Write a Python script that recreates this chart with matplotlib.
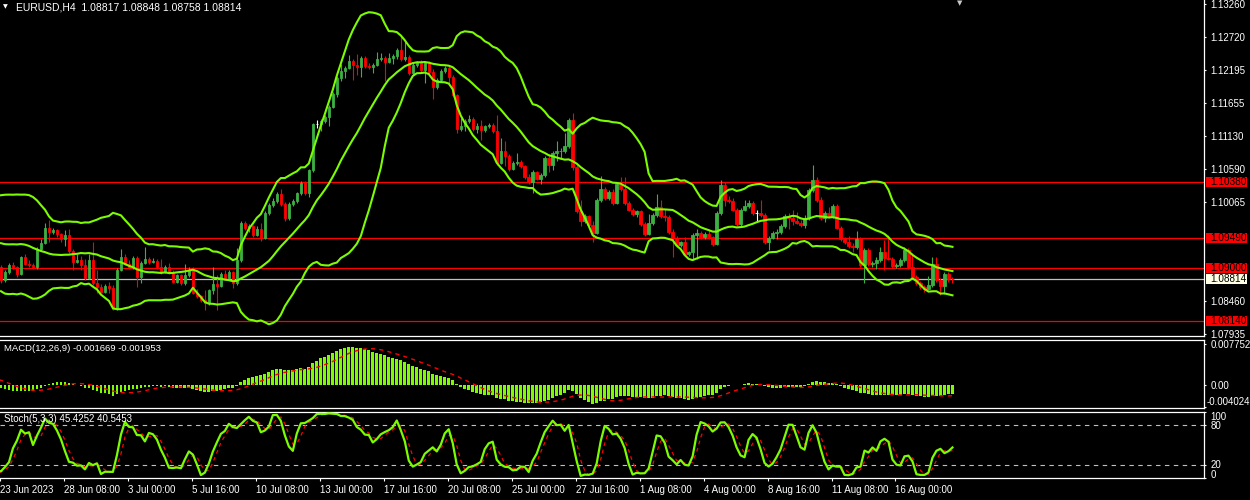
import numpy as np
import pandas as pd
import matplotlib
matplotlib.use('Agg')
import matplotlib.pyplot as plt
from matplotlib.patches import Rectangle
from matplotlib.transforms import blended_transform_factory, ScaledTranslation

plt.rcParams['font.family'] = ['Liberation Sans', 'DejaVu Sans']

# EURUSD H4, prices in pips above 1.0000 (880 -> 1.0880)
# a few bars before the left edge, only needed to warm up the indicators
lead_open = 932
lead_closes = [925, 910, 898, 895, 905, 925, 945, 965, 980, 992,
               1000, 1005, 990, 962, 955, 945, 925, 892, 902]
lead_highs = [935, 928, 912, 903, 910, 928, 948, 968, 984, 996,
              1004, 1012, 1008, 992, 966, 958, 948, 928, 908]
lead_lows = [920, 905, 893, 888, 893, 903, 922, 943, 962, 976,
             989, 997, 985, 958, 950, 940, 920, 885, 884]

# visible bars, 23 Jun 16:00 .. 18 Aug 08:00
closes = [880, 894, 904, 901, 890, 917, 907, 904, 901, 930,
          940, 965, 958, 961, 954, 947, 953, 927, 910, 912,
          905, 884, 913, 875, 869, 862, 871, 868, 834, 897,
          918, 907, 901, 916, 886, 908, 914, 910, 911, 901,
          894, 901, 892, 878, 888, 875, 889, 897, 860, 854,
          848, 843, 864, 874, 871, 890, 883, 893, 876, 912,
          972, 964, 967, 953, 963, 949, 989, 1001, 1008, 1019,
          1003, 980, 1003, 1008, 1020, 1037, 1020, 1058, 1132, 1132,
          1137, 1143, 1160, 1180, 1206, 1218, 1222, 1234, 1227, 1224,
          1239, 1226, 1224, 1227, 1236, 1239, 1232, 1238, 1242, 1251,
          1236, 1240, 1214, 1227, 1231, 1219, 1230, 1215, 1191, 1203,
          1218, 1222, 1208, 1178, 1124, 1129, 1137, 1140, 1124, 1128,
          1122, 1128, 1131, 1120, 1069, 1089, 1080, 1060, 1069, 1071,
          1064, 1047, 1039, 1055, 1044, 1050, 1077, 1066, 1086, 1088,
          1089, 1096, 1139, 1062, 991, 976, 984, 969, 956, 1009,
          1027, 1012, 1023, 1005, 1035, 1027, 1005, 994, 987, 991,
          971, 955, 972, 985, 998, 984, 982, 958, 948, 937,
          941, 922, 925, 953, 956, 950, 955, 950, 939, 988,
          1034, 1010, 1008, 994, 971, 994, 1000, 1004, 989, 989,
          985, 942, 949, 957, 958, 968, 984, 980, 975, 973,
          969, 980, 1026, 1042, 1009, 980, 988, 983, 1000, 965,
          946, 942, 935, 934, 946, 905, 929, 906, 908, 912,
          926, 916, 915, 903, 905, 913, 929, 902, 885, 875,
          869, 866, 872, 906, 880, 871, 891, 881.7, 881.4]
highs = [905, 897, 908, 909, 903, 919, 922, 912, 908, 933,
         947, 972, 977, 964, 963, 956, 961, 963, 930, 923,
         919, 915, 922, 941, 897, 874, 874, 877, 872, 900,
         931, 923, 912, 919, 919, 911, 933, 917, 916, 915,
         914, 904, 908, 896, 891, 890, 907, 901, 901, 866,
         857, 864, 866, 901, 888, 893, 896, 896, 895, 932,
         976, 975, 971, 969, 967, 972, 991, 1004, 1012, 1022,
         1027, 1006, 1006, 1011, 1023, 1040, 1040, 1060, 1134, 1139,
         1140, 1146, 1163, 1183, 1209, 1228, 1225, 1243, 1237, 1244,
         1242, 1241, 1230, 1230, 1248, 1246, 1241, 1246, 1245, 1254,
         1274, 1266, 1243, 1230, 1234, 1235, 1234, 1234, 1220, 1206,
         1221, 1226, 1225, 1211, 1181, 1141, 1140, 1147, 1144, 1133,
         1138, 1131, 1134, 1134, 1146, 1109, 1104, 1083, 1072, 1085,
         1074, 1066, 1052, 1058, 1057, 1053, 1080, 1084, 1089, 1105,
         1093, 1118, 1142, 1150, 1066, 1009, 987, 986, 975, 1012,
         1048, 1030, 1026, 1027, 1038, 1046, 1046, 1008, 997, 994,
         994, 974, 987, 988, 1019, 1010, 995, 986, 962, 951,
         944, 950, 928, 956, 962, 959, 958, 961, 952, 991,
         1042, 1039, 1016, 1012, 997, 997, 1010, 1009, 1008, 993,
         1010, 988, 952, 960, 962, 971, 987, 988, 993, 990,
         978, 985, 1029, 1066, 1046, 1014, 991, 998, 1003, 1003,
         968, 950, 951, 940, 960, 950, 932, 932, 911, 918,
         933, 945, 953, 918, 908, 916, 933, 932, 924, 888,
         879, 872, 887, 918, 918, 884, 894, 894, 884.8]
lows = [876, 878, 890, 899, 886, 888, 904, 901, 899, 899,
        928, 938, 941, 955, 950, 941, 935, 924, 896, 908,
        897, 880, 882, 872, 860, 859, 860, 860, 833, 833,
        895, 904, 898, 899, 870, 875, 906, 907, 908, 899,
        891, 892, 890, 876, 875, 873, 873, 886, 858, 851,
        845, 833, 841, 858, 833, 869, 880, 881, 867, 873,
        909, 961, 958, 950, 951, 944, 947, 986, 998, 1005,
        1000, 976, 978, 1000, 1005, 1017, 1017, 1014, 1055, 1125,
        1121, 1134, 1129, 1158, 1175, 1201, 1206, 1220, 1203, 1211,
        1207, 1222, 1221, 1214, 1225, 1233, 1202, 1230, 1229, 1237,
        1233, 1233, 1211, 1211, 1224, 1216, 1198, 1212, 1173, 1188,
        1200, 1214, 1198, 1175, 1118, 1121, 1121, 1134, 1120, 1117,
        1106, 1119, 1126, 1117, 1066, 1067, 1064, 1057, 1058, 1066,
        1061, 1044, 1036, 1020, 1041, 1035, 1046, 1055, 1058, 1073,
        1075, 1085, 1094, 1058, 988, 967, 972, 966, 942, 954,
        1006, 1009, 1010, 1002, 1003, 1024, 1002, 991, 984, 982,
        968, 952, 953, 969, 982, 981, 976, 955, 917, 933,
        933, 919, 919, 915, 915, 947, 947, 947, 935, 937,
        985, 1000, 1005, 991, 968, 968, 991, 996, 986, 975,
        982, 939, 929, 946, 946, 955, 965, 962, 969, 970,
        966, 965, 977, 1023, 1006, 977, 974, 980, 980, 962,
        943, 939, 932, 926, 931, 902, 875, 903, 902, 899,
        909, 896, 912, 900, 900, 901, 910, 899, 882, 872,
        866, 862, 864, 869, 877, 856, 858, 878, 875.8]

date_labels = ["23 Jun 2023", "28 Jun 08:00", "3 Jul 00:00", "5 Jul 16:00",
               "10 Jul 08:00", "13 Jul 00:00", "17 Jul 16:00", "20 Jul 08:00",
               "25 Jul 00:00", "27 Jul 16:00", "1 Aug 08:00", "4 Aug 00:00",
               "8 Aug 16:00", "11 Aug 08:00", "16 Aug 00:00"]
label_every = 16  # bars between date labels

price_ticks = [1.13260, 1.12720, 1.12195, 1.11655, 1.11130, 1.10590,
               1.10065, 1.08460, 1.07935]
levels = [1.10380, 1.09490, 1.09000, 1.08140]
bid = 1.08814
macd_ticks = [0.007752, 0.0, -0.004024]
macd_tick_labels = ["0.007752", "0.00", "-0.004024"]
stoch_ticks = [100, 80, 20, 0]

title = "EURUSD,H4  1.08817 1.08848 1.08758 1.08814"
macd_title = "MACD(12,26,9) -0.001669 -0.001953"
stoch_title = "Stoch(5,3,3) 45.4252 40.5453"

FG = 'white'
LIME = '#7CFC00'
BULL = '#3CB043'
BEAR = '#FF0000'

# series
c_all = pd.Series(lead_closes + closes, dtype=float) / 10000 + 1
h_all = pd.Series(lead_highs + highs, dtype=float) / 10000 + 1
l_all = pd.Series(lead_lows + lows, dtype=float) / 10000 + 1
o_all = pd.Series([lead_open / 10000 + 1] + list(c_all.values[:-1]))
n_lead = len(lead_closes)
x_all = np.arange(len(c_all)) - n_lead

# indicators, computed the way the terminal does
mid = c_all.rolling(20).mean()
sd = c_all.rolling(20).std(ddof=0)
upper = mid + 2 * sd
lower = mid - 2 * sd
macd = c_all.ewm(span=12, adjust=False).mean() - c_all.ewm(span=26, adjust=False).mean()
signal = macd.rolling(9).mean()
ll = l_all.rolling(5).min()
hh = h_all.rolling(5).max()
k_line = (c_all - ll).rolling(3).sum() / (hh - ll).rolling(3).sum() * 100
d_line = k_line.rolling(3).mean()

# layout in pixels
W, H = 1250, 500
RIGHT = 1204


def box(x0, y0, x1, y1):
    return [x0 / W, 1 - y1 / H, (x1 - x0) / W, (y1 - y0) / H]


def nudge(label, dx_px, dy_px):
    label.set_transform(label.get_transform()
                        + ScaledTranslation(dx_px / 100, dy_px / 100, fig.dpi_scale_trans))


fig = plt.figure(figsize=(W / 100, H / 100), dpi=100, facecolor='black')
ax = fig.add_axes(box(0, 0, RIGHT, 336))
axm = fig.add_axes(box(0, 339.5, RIGHT, 408), sharex=ax)
axs = fig.add_axes(box(0, 411.7, RIGHT, 478.3), sharex=ax)

for a in (ax, axm, axs):
    a.set_facecolor('black')
    a.spines['left'].set_visible(False)
    for s in ('right', 'top', 'bottom'):
        a.spines[s].set_color(FG)
        a.spines[s].set_linewidth(0.9)
    a.yaxis.tick_right()
    a.tick_params(axis='y', colors=FG, length=1.5, width=0.8, pad=3.4, labelsize=7)
ax.spines['top'].set_visible(False)
ax.tick_params(axis='x', bottom=False, labelbottom=False)
axm.tick_params(axis='x', bottom=False, labelbottom=False)
ax.set_xlim(-0.075, (RIGHT - 0.3) / 4)

# candles
vis = x_all >= 0
x = x_all[vis]
o = o_all.values[vis]
c = c_all.values[vis]
h = h_all.values[vis]
l = l_all.values[vis]
col = np.where(c > o, BULL, np.where(c < o, BEAR, FG))
ax.vlines(x, l, h, colors=col, lw=0.8, zorder=2)
ax.bar(x, c - o, bottom=o, width=0.6, color=col, edgecolor=col, lw=0.6, zorder=2)

# bollinger bands
for band in (upper, mid, lower):
    ax.plot(x_all, band, color=LIME, lw=1.5, zorder=3)

# level lines and bid line
for lv in levels:
    ax.axhline(lv, color=BEAR, lw=0.9, zorder=1)
ax.axhline(bid, color='#C0C0C0', lw=0.9, zorder=1)

ax.set_ylim(1.07903, 1.13318)
ax.set_yticks(price_ticks)
ax.set_yticklabels([f"{p:.5f}" for p in price_ticks])

tr = blended_transform_factory(fig.transFigure, ax.transData)
half = 5.0 * 0.00016115
for lv, fc in [(lv, BEAR) for lv in levels] + [(bid, '#FFFFE6')]:
    ax.add_patch(Rectangle((1206 / W, lv - half), 41 / W, 2 * half,
                           transform=tr, facecolor=fc, edgecolor='none',
                           clip_on=False, zorder=5))
    ax.text(1210 / W, lv, f"{lv:.5f}", transform=tr, color='black',
            fontsize=7.2, va='center', ha='left', zorder=6)

# MACD
axm.bar(x_all, macd, width=0.7, color=LIME, zorder=2)
axm.plot(x_all, signal, color=BEAR, lw=1.0, ls=(0, (3, 3)), zorder=3)
axm.set_ylim(-0.00426, 0.0086)
axm.set_yticks(macd_ticks)
axm.set_yticklabels(macd_tick_labels)
low_lbl = axm.get_yticklabels()[2]
low_lbl.set_verticalalignment('bottom')
nudge(low_lbl, -4, 0)

# Stochastic
axs.axhline(80, color='#C0C0C0', lw=0.8, ls=(0, (4, 4)))
axs.axhline(20, color='#C0C0C0', lw=0.8, ls=(0, (4, 4)))
axs.plot(x_all, k_line, color=LIME, lw=1.6, zorder=3)
axs.plot(x_all, d_line, color=BEAR, lw=0.9, ls=(0, (3, 3)), zorder=2)
axs.set_ylim(0, 100)
axs.set_yticks(stoch_ticks)
axs.set_yticklabels([str(t) for t in stoch_ticks])
axs.get_yticklabels()[0].set_verticalalignment('top')
zero_lbl = axs.get_yticklabels()[3]
zero_lbl.set_verticalalignment('bottom')
nudge(zero_lbl, 0, -1.5)
nudge(axs.get_yticklabels()[2], 0, 1.0)

# time axis
axs.set_xticks([label_every * i - 0.25 for i in range(len(date_labels))])
axs.set_xticklabels(date_labels)
axs.tick_params(axis='x', colors=FG, length=2.2, width=0.8, pad=2.7, labelsize=7)
for t in axs.get_xticklabels():
    t.set_horizontalalignment('left')

# panel captions
fig.text(3 / W, 1 - 7 / H, "\u25bc", color=FG, fontsize=4.5, va='center', ha='left',
         family=['DejaVu Sans'])
fig.text(15.5 / W, 1 - 7 / H, title, color=FG, fontsize=7.5, va='center', ha='left')
fig.text(4 / W, 1 - 348.3 / H, macd_title, color=FG, fontsize=6.8, va='center', ha='left')
fig.text(4 / W, 1 - 419.3 / H, stoch_title, color=FG, fontsize=7, va='center', ha='left')
fig.text(960 / W, 1 - 3 / H, "\u25bc", color='#C8C8C8', fontsize=5, va='center',
         ha='center', family=['DejaVu Sans'])

fig.savefig('out.png', dpi=100, facecolor='black')
